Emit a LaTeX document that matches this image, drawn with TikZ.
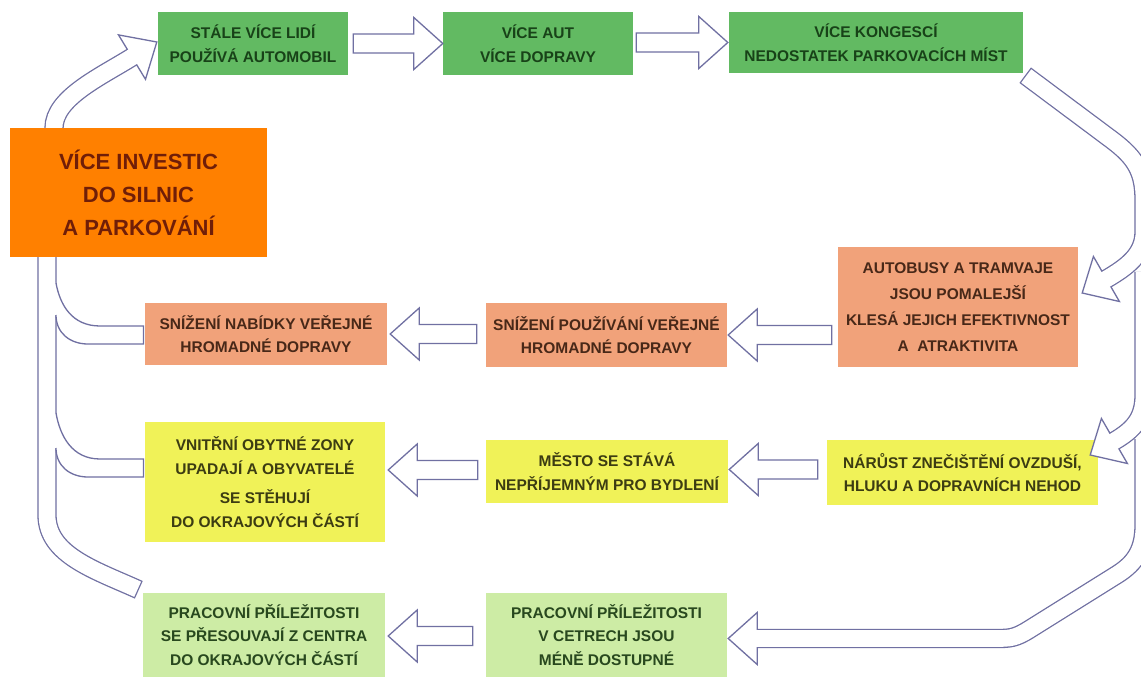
\documentclass[tikz,border=0pt]{standalone}
\usepackage{fontspec}
\setmainfont{Liberation Sans}
\usetikzlibrary{calc}
\definecolor{arrc}{RGB}{112,112,162}
\definecolor{gfill}{RGB}{98,186,98}
\definecolor{gtext}{RGB}{24,66,24}
\definecolor{ofill}{RGB}{255,128,0}
\definecolor{otext}{RGB}{112,30,8}
\definecolor{sfill}{RGB}{241,162,122}
\definecolor{stext}{RGB}{72,40,24}
\definecolor{yfill}{RGB}{240,242,88}
\definecolor{ytext}{RGB}{60,60,18}
\definecolor{lfill}{RGB}{205,236,165}
\definecolor{ltext}{RGB}{40,72,30}
\tikzset{
  box/.style={rectangle, inner sep=0pt, align=center, font=\bfseries\fontsize{15.5}{23.5}\selectfont},
  gbox/.style={box, fill=gfill, text=gtext},
  obox/.style={box, fill=ofill, text=otext, font=\bfseries\fontsize{22}{33}\selectfont},
  sbox/.style={box, fill=sfill, text=stext},
  ybox/.style={box, fill=yfill, text=ytext},
  lbox/.style={box, fill=lfill, text=ltext},
  barrow/.style={draw=arrc, line width=1.3pt, fill=white, line join=miter},
  shout/.style={draw=arrc, line width=19.3pt},
  shin/.style={draw=white, line width=16.7pt},
  edgeline/.style={draw=arrc, line width=1.3pt},
}
\newcommand\harrow[2]{%
  \draw[barrow] let \p1=#1, \p2=#2, \n1={sign(\x2-\x1)} in
    (\x1,\y2+9.5pt) -- (\x2-\n1*29pt,\y2+9.5pt) -- (\x2-\n1*29pt,\y2+26pt)
    -- (\x2,\y2) -- (\x2-\n1*29pt,\y2-26pt) -- (\x2-\n1*29pt,\y2-9.5pt)
    -- (\x1,\y2-9.5pt) -- cycle;}
\newcommand\tubeT[1]{\path[#1] (Ttail) .. controls (95,570) and (47,555) .. (47,515) -- (47,250) -- (54,128) .. controls (54,98) and (100,77) .. ($(Ttip)+(-24.8,15.1)$) -- ($(Ttip)+(-23.1,14.1)$);}
\newcommand\tubeA[1]{\path[#1] (Atail) -- (1112,140) .. controls (1136,158) and (1144,172) .. (1144,200) -- (1144,232) .. controls (1144,255) and (1126,267.5) .. ($(Atip)+(24.2,-14)$) -- ($(Atip)+(22.5,-13)$);}
\newcommand\tubeB[1]{\path[#1] (1144,272) -- (1144,395) .. controls (1144,418) and (1134,429.5) .. ($(Btip)+(24.2,-14)$) -- ($(Btip)+(22.5,-13)$);}
\newcommand\tubeC[1]{\path[#1] (1144,439) -- (1144,525) .. controls (1144,550) and (1135,563) .. (1118,574) -- (1030,629) .. controls (1015,638.5) and (1010,638.5) .. (995,638.5) -- ($(Ctip)+(29,0)$) -- ($(Ctip)+(27,0)$);}
\begin{document}
\begin{tikzpicture}[x=1pt,y=-1pt]
\useasboundingbox (0,0) rectangle (1141,679);
\clip (0,0) rectangle (1141,679);
\fill[white] (0,0) rectangle (1141,679);

\node[gbox, minimum width=190pt, minimum height=63pt] (b1) at (253,43.5) {STÁLE VÍCE LIDÍ\\POUŽÍVÁ AUTOMOBIL};
\node[gbox, minimum width=190pt, minimum height=63pt] (b2) at (538,43.5) {VÍCE AUT\\VÍCE DOPRAVY};
\node[gbox, minimum width=294pt, minimum height=61pt] (b3) at (876,42.5) {VÍCE KONGESCÍ\\NEDOSTATEK PARKOVACÍCH MÍST};
\node[sbox, minimum width=240pt, minimum height=120pt, font=\bfseries\fontsize{15.5}{26}\selectfont] (b5) at (958,307) {AUTOBUSY A TRAMVAJE\\JSOU POMALEJŠÍ\\KLESÁ JEJICH EFEKTIVNOST\\A\ \ ATRAKTIVITA};
\node[sbox, minimum width=241pt, minimum height=64pt] (b6) at (606.5,335) {SNÍŽENÍ POUŽÍVÁNÍ VEŘEJNÉ\\HROMADNÉ DOPRAVY};
\node[sbox, minimum width=242pt, minimum height=62pt] (b7) at (266,334) {SNÍŽENÍ NABÍDKY VEŘEJNÉ\\HROMADNÉ DOPRAVY};
\node[ybox, minimum width=240pt, minimum height=120pt] (b8) at (265,482) {VNITŘNÍ OBYTNÉ ZONY\\UPADAJÍ A OBYVATELÉ\\[6pt]SE STĚHUJÍ\\DO OKRAJOVÝCH ČÁSTÍ};
\node[ybox, minimum width=242pt, minimum height=63pt] (b9) at (607,471.5) {MĚSTO SE STÁVÁ\\NEPŘÍJEMNÝM PRO BYDLENÍ};
\node[ybox, minimum width=271pt, minimum height=65pt] (b10) at (962.5,472.5) {NÁRŮST ZNEČIŠTĚNÍ OVZDUŠÍ,\\HLUKU A DOPRAVNÍCH NEHOD};
\node[lbox, minimum width=242pt, minimum height=84pt] (b11) at (264,635) {PRACOVNÍ PŘÍLEŽITOSTI\\SE PŘESOUVAJÍ Z CENTRA\\DO OKRAJOVÝCH ČÁSTÍ};
\node[lbox, minimum width=241pt, minimum height=84pt] (b12) at (606.5,635) {PRACOVNÍ PŘÍLEŽITOSTI\\V CETRECH JSOU\\MÉNĚ DOSTUPNÉ};

% straight block arrows
\harrow{($(b1.east)+(5,0)$)}{(b2.west)}
\harrow{($(b2.east)+(3,0)$)}{($(b3.west)+(-1,0)$)}
\harrow{($(b5.west)+(-6,0)$)}{($(b6.east)+(1,0)$)}
\harrow{($(b6.west)+(-9,0)$)}{($(b7.east)+(3,0)$)}
\harrow{($(b10.west)+(-9,0)$)}{($(b9.east)+(1,-2)$)}
\harrow{($(b9.west)+(-8,0)$)}{($(b8.east)+(3,-12)$)}
\harrow{($(b12.west)+(-13,0)$)}{($(b11.east)+(3,1)$)}

% right side curved arrows
\coordinate (Atail) at ($(b3.south east)+(2,2)$);
\coordinate (Atip) at ($(b5.east)+(4,-14)$);
\coordinate (Btip) at ($(b10.east)+(-8,-17.5)$);
\coordinate (Ctip) at ($(b12.east)+(1,3.5)$);
\tubeA{shout}
\draw[barrow] (Atip) -- ($(Atip)+(37.2,8.5)$) -- ($(Atip)+(11.2,-36.5)$) -- cycle;
\tubeA{shin, shorten <=1.3pt}
\tubeB{shout}
\draw[barrow] (Btip) -- ($(Btip)+(37.2,8.5)$) -- ($(Btip)+(11.2,-36.5)$) -- cycle;
\tubeB{shin}
\tubeC{shout}
\draw[barrow] (Ctip) -- ($(Ctip)+(29,-26)$) -- ($(Ctip)+(29,26)$) -- cycle;
\tubeC{shin}

% left trunk
\coordinate (Ttail) at ($(b11.north west)+(-4,-3)$);
\coordinate (Ttip) at ($(b1.west)+(-1,-1.5)$);
\tubeT{shout}
\draw[barrow] (Ttip) -- ($(Ttip)+(-11.3,37.3)$) -- ($(Ttip)+(-38.3,-7.1)$) -- cycle;
\tubeT{shin, shorten <=1.3pt}

% branches joining the trunk
\fill[white] (56,283) .. controls (60,305) and (72,326) .. (100,326) -- (143.5,326) -- (143.5,344) -- (88,344) .. controls (70,344) and (56,333) .. (56,315) -- (50,315) -- (50,283) -- cycle;
\draw[edgeline] (56,283) .. controls (60,305) and (72,326) .. (100,326) -- (143.5,326) -- (143.5,344) -- (88,344) .. controls (70,344) and (56,333) .. (56,315);
\fill[white] (56,413) .. controls (60,436) and (72,459) .. (100,459) -- (143.5,459) -- (143.5,477) -- (88,477) .. controls (70,477) and (56,466) .. (56,448) -- (50,448) -- (50,413) -- cycle;
\draw[edgeline] (56,413) .. controls (60,436) and (72,459) .. (100,459) -- (143.5,459) -- (143.5,477) -- (88,477) .. controls (70,477) and (56,466) .. (56,448);

\node[obox, minimum width=257pt, minimum height=129pt] (b4) at (138.5,192.5) {VÍCE INVESTIC\\DO SILNIC\\A PARKOVÁNÍ};
\end{tikzpicture}
\end{document}
